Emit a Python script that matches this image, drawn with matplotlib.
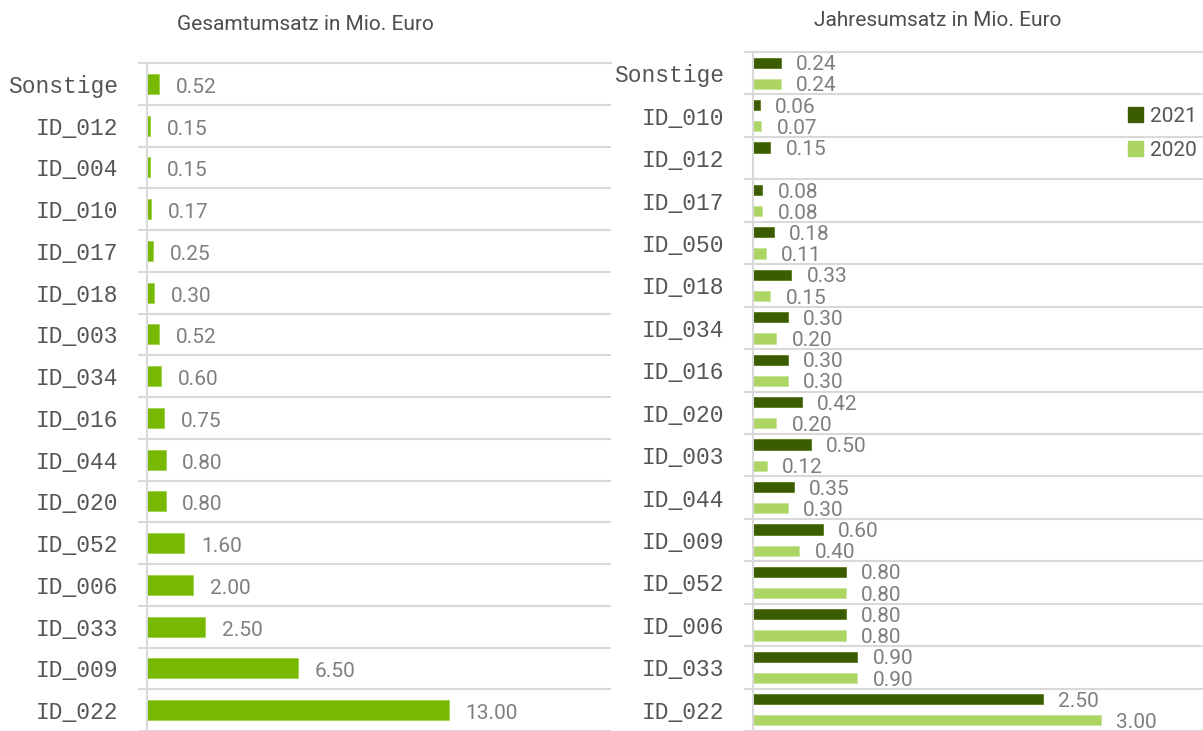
import matplotlib
matplotlib.use('Agg')
import matplotlib.pyplot as plt
from matplotlib.patches import Patch
import numpy as np

# ---------------- data ----------------
left_categories = ['Sonstige', 'ID_012', 'ID_004', 'ID_010', 'ID_017', 'ID_018', 'ID_003', 'ID_034',
                   'ID_016', 'ID_044', 'ID_020', 'ID_052', 'ID_006', 'ID_033', 'ID_009', 'ID_022']
left_values = [0.52, 0.15, 0.15, 0.17, 0.25, 0.30, 0.52, 0.60, 0.75, 0.80, 0.80, 1.60, 2.00, 2.50, 6.50, 13.00]

right_categories = ['Sonstige', 'ID_010', 'ID_012', 'ID_017', 'ID_050', 'ID_018', 'ID_034', 'ID_016',
                    'ID_020', 'ID_003', 'ID_044', 'ID_009', 'ID_052', 'ID_006', 'ID_033', 'ID_022']
values_2021 = [0.24, 0.06, 0.15, 0.08, 0.18, 0.33, 0.30, 0.30, 0.42, 0.50, 0.35, 0.60, 0.80, 0.80, 0.90, 2.50]
values_2020 = [0.24, 0.07, None, 0.08, 0.11, 0.15, 0.20, 0.30, 0.20, 0.12, 0.30, 0.40, 0.80, 0.80, 0.90, 3.00]
series_labels = ['2021', '2020']
titles = ['Gesamtumsatz in Mio. Euro', 'Jahresumsatz in Mio. Euro']

# ---------------- style ----------------
W, H = 1203, 731
C_LEFT = '#76b900'
C_2021 = '#3b5c00'
C_2020 = '#acd563'
C_GRID = '#d9d9d9'
C_VAL = '#7f7f7f'
C_CAT = '#555555'
C_TITLE = '#4d4d4d'
VAL_FONT = 'Roboto'
CAT_FONT = 'Liberation Mono'

fig = plt.figure(figsize=(W / 100, H / 100), dpi=100)


def style_axes(ax, cats, xmax):
    n = len(cats)
    y = np.arange(n)
    ax.set_ylim(n - 0.5, -0.5)
    ax.set_xlim(0, xmax)
    ax.set_yticks(y)
    ax.set_yticklabels(cats, fontfamily=CAT_FONT, fontsize=16.5, color=C_CAT)
    ax.set_yticks(np.arange(-0.5, n, 1.0), minor=True)
    ax.tick_params(axis='y', which='major', length=0, pad=21)
    ax.tick_params(axis='y', which='minor', length=6.5, width=1.5, color=C_GRID, direction='out')
    ax.grid(which='minor', axis='y', color=C_GRID, linewidth=1.5)
    ax.grid(which='major', visible=False)
    ax.set_axisbelow(True)
    ax.set_xticks([])
    for s in ['right', 'bottom']:
        ax.spines[s].set_visible(False)
    for s in ['left', 'top']:
        ax.spines[s].set_color(C_GRID)
        ax.spines[s].set_linewidth(1.5)
    return y


# ---------------- left chart ----------------
ax1 = fig.add_axes([147 / W, 0, 464 / W, 668 / H])
y1 = style_axes(ax1, left_categories, 19.97)
ax1.barh(y1, left_values, height=0.48, color=C_LEFT, edgecolor='#9fd24a', linewidth=0.6)
for yi, v in zip(y1, left_values):
    ax1.annotate(f'{v:.2f}', (v, yi), xytext=(12, -2.5), textcoords='offset points',
                 va='center', ha='left', fontfamily=VAL_FONT, fontsize=15, color=C_VAL)

# ---------------- right chart ----------------
ax2 = fig.add_axes([753 / W, 0, 450 / W, 679 / H])
y2 = style_axes(ax2, right_categories, 3.88)
v21 = np.array(values_2021, dtype=float)
v20 = np.array([np.nan if v is None else v for v in values_2020], dtype=float)
ax2.barh(y2 - 0.25, v21, height=0.24, color=C_2021, edgecolor='#5b7d1c', linewidth=0.6)
ax2.barh(y2 + 0.25, v20, height=0.24, color=C_2020, edgecolor='#c6e59a', linewidth=0.6)
for yi, v in zip(y2, v21):
    ax2.annotate(f'{v:.2f}', (v, yi - 0.25), xytext=(11, -1.5), textcoords='offset points',
                 va='center', ha='left', fontfamily=VAL_FONT, fontsize=15, color=C_VAL)
for yi, v in zip(y2, v20):
    if np.isnan(v):
        continue
    ax2.annotate(f'{v:.2f}', (v, yi + 0.25), xytext=(11, -1.5), textcoords='offset points',
                 va='center', ha='left', fontfamily=VAL_FONT, fontsize=15, color=C_VAL)

# ---------------- titles ----------------
fig.text(305 / W, 1 - 25 / H, titles[0], ha='center', va='center', fontfamily=VAL_FONT,
         fontsize=15, color=C_TITLE)
fig.text(938 / W, 1 - 21 / H, titles[1], ha='center', va='center', fontfamily=VAL_FONT,
         fontsize=15, color=C_TITLE)

# ---------------- legend ----------------
handles = [Patch(facecolor=C_2021, edgecolor=C_2021), Patch(facecolor=C_2020, edgecolor=C_2020)]
leg = fig.legend(handles, series_labels, loc='upper left', bbox_to_anchor=(1128 / W, 1 - 107 / H),
                 frameon=False, handlelength=0.72, handleheight=0.72, handletextpad=0.35,
                 labelspacing=0.7, borderaxespad=0, borderpad=0,
                 prop={'family': VAL_FONT, 'size': 15})
for t in leg.get_texts():
    t.set_color(C_CAT)

fig.savefig('out.png', dpi=100)
